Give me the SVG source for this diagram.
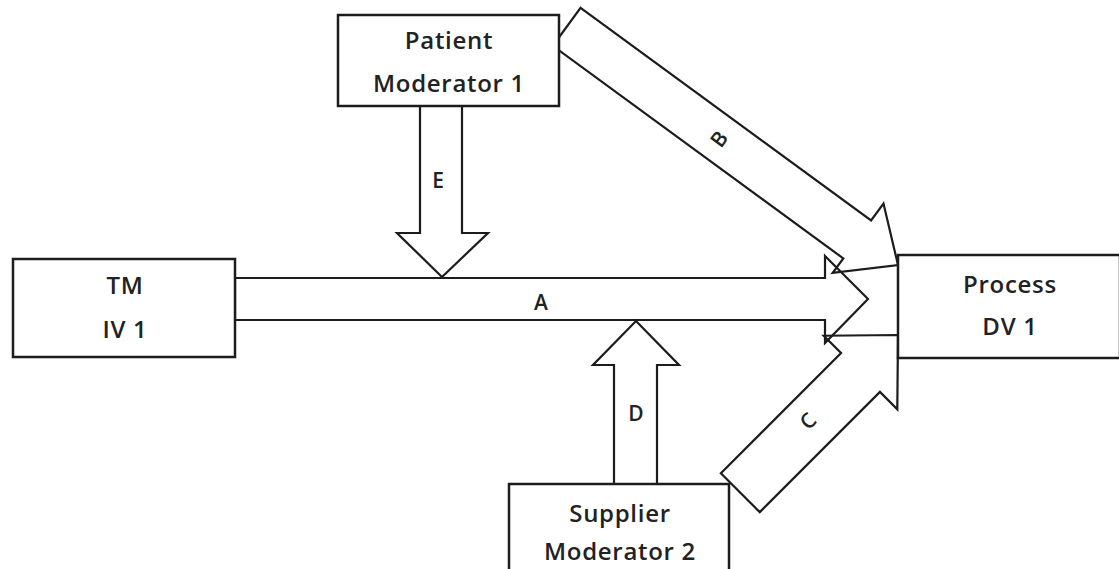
<svg xmlns="http://www.w3.org/2000/svg" width="1119" height="569" viewBox="0 0 1119 569">
  <style>
    .box { fill: #ffffff; stroke: #1c1c1c; stroke-width: 2.5; }
    .arrow { fill: none; stroke: #1c1c1c; stroke-width: 2.2; stroke-linejoin: miter; }
    .t { font-family: "Open Sans", "Noto Sans", sans-serif; font-weight: 600; font-size: 24px; letter-spacing: 0.7px; fill: #222222; text-anchor: middle; }
    .lbl { font-family: "Open Sans", "Noto Sans", sans-serif; font-weight: 600; font-size: 21px; fill: #222222; text-anchor: middle; }
  </style>
  <rect width="1119" height="569" fill="#ffffff"/>

  <!-- block-arrow connectors -->
  <g id="connectors">
    <!-- A: TM -> Process -->
    <polygon class="arrow" points="235,278 825,278 825,256 868,299 825,343 825,320 235,320"/>
    <!-- B: Patient -> Process -->
    <g transform="translate(898,265) rotate(36.2)">
      <polygon class="arrow" points="-408,-20 -48,-20 -48,-41 0,0 -48,45 -48,27 -408,27"/>
    </g>
    <!-- C: Supplier -> Process -->
    <g transform="translate(898,335) rotate(-45)">
      <polygon class="arrow" points="-223,-27.5 -53,-27.5 -53,-52 0,0 -53,52 -53,27.5 -223,27.5"/>
    </g>
    <!-- D: Supplier -> A -->
    <polygon class="arrow" points="614,484 614,365 593,365 636,321 679,365 657,365 657,484"/>
    <!-- E: Patient -> A -->
    <polygon class="arrow" points="420,106 462,106 462,233 488,233 442,277 397,233 420,233"/>

    <text class="lbl" x="541" y="310">A</text>
    <text class="lbl" transform="translate(719,139) rotate(-54)" y="7.5">B</text>
    <text class="lbl" transform="translate(808,421) rotate(-45)" y="7.5">C</text>
    <text class="lbl" x="636" y="421">D</text>
    <text class="lbl" x="438" y="188">E</text>
  </g>

  <g id="patient">
    <rect class="box" x="338" y="15" width="221" height="91"/>
    <text class="t" x="449" y="49">Patient</text>
    <text class="t" x="449" y="92">Moderator 1</text>
  </g>

  <g id="tm">
    <rect class="box" x="13" y="259" width="222" height="98"/>
    <text class="t" x="125" y="294">TM</text>
    <text class="t" x="125" y="338">IV 1</text>
  </g>

  <g id="process">
    <rect class="box" x="898" y="255" width="222" height="103"/>
    <text class="t" x="1010" y="293">Process</text>
    <text class="t" x="1010" y="335">DV 1</text>
  </g>

  <g id="supplier">
    <rect class="box" x="509" y="484" width="220" height="100"/>
    <text class="t" x="620" y="522">Supplier</text>
    <text class="t" x="620" y="560">Moderator 2</text>
  </g>
</svg>
